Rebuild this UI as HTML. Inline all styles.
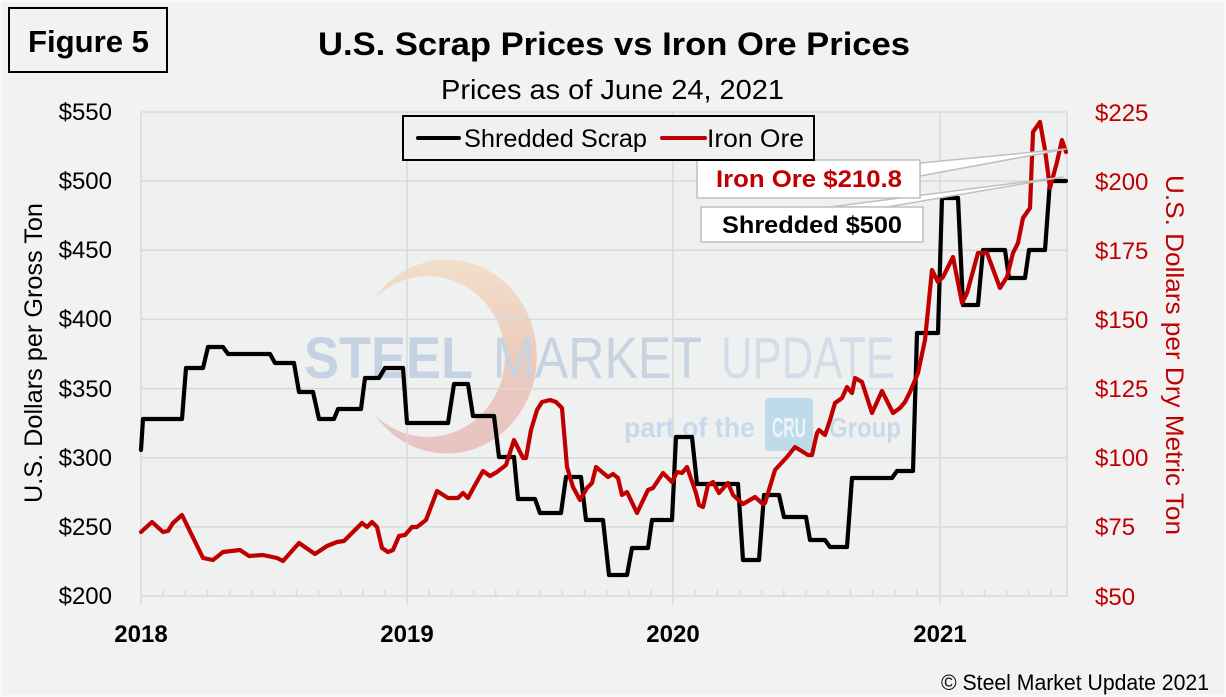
<!DOCTYPE html>
<html>
<head>
<meta charset="utf-8">
<style>
  html,body{margin:0;padding:0;background:#f2f2f2;}
  svg{display:block;}
  text{font-family:"Liberation Sans",Arial,sans-serif;}
</style>
</head>
<body>
<svg width="1226" height="697" viewBox="0 0 1226 697" xmlns="http://www.w3.org/2000/svg">
  <defs>
    <linearGradient id="cres" x1="0" y1="0" x2="0" y2="1">
      <stop offset="0" stop-color="#f1dfcb"/>
      <stop offset="0.5" stop-color="#eccbbd"/>
      <stop offset="1" stop-color="#e8c3c3"/>
    </linearGradient>
  </defs>
  <rect x="0" y="0" width="1226" height="697" fill="#f2f2f2"/>
  <rect x="1" y="1" width="1224" height="695" fill="none" stroke="#f9f9f9" stroke-width="2"/>

  <!-- plot area -->
  <rect x="141" y="112" width="926" height="484" fill="#eff0f0"/>

  <!-- watermark crescent -->
  <path d="M375,298 A90,97 0 1 1 375,415 A77,80.5 0 1 0 375,298 Z" fill="url(#cres)"/>

  <!-- watermark text -->
  <g>
    <text x="304" y="378" font-size="58" font-weight="bold" fill="#c5d2e2" textLength="169" lengthAdjust="spacingAndGlyphs">STEEL</text>
    <text x="493" y="378" font-size="58" fill="#c8d3e2" textLength="209" lengthAdjust="spacingAndGlyphs">MARKET</text>
    <text x="721" y="378" font-size="58" fill="#d3dce8" textLength="174" lengthAdjust="spacingAndGlyphs">UPDATE</text>
    <text x="624" y="437" font-size="28" font-weight="bold" fill="#c7d9ea" textLength="131" lengthAdjust="spacingAndGlyphs">part of the</text>
    <rect x="765" y="398" width="48" height="53" rx="4" fill="#bedbea"/>
    <text x="789" y="437" font-size="28" font-weight="bold" fill="#eef4f8" text-anchor="middle" textLength="34" lengthAdjust="spacingAndGlyphs">CRU</text>
    <text x="829" y="437" font-size="28" font-weight="bold" fill="#c7d9ea" textLength="72" lengthAdjust="spacingAndGlyphs">Group</text>
  </g>

  <!-- gridlines -->
  <g stroke="#d9d9d9" stroke-width="1.5">
    <line x1="141" y1="112" x2="1067" y2="112"/>
    <line x1="141" y1="181.1" x2="1067" y2="181.1"/>
    <line x1="141" y1="250.3" x2="1067" y2="250.3"/>
    <line x1="141" y1="319.4" x2="1067" y2="319.4"/>
    <line x1="141" y1="388.6" x2="1067" y2="388.6"/>
    <line x1="141" y1="457.7" x2="1067" y2="457.7"/>
    <line x1="141" y1="526.9" x2="1067" y2="526.9"/>
    <line x1="141" y1="596" x2="1067" y2="596"/>
    <line x1="141" y1="112" x2="141" y2="605"/>
    <line x1="407" y1="112" x2="407" y2="605"/>
    <line x1="673" y1="112" x2="673" y2="605"/>
    <line x1="940" y1="112" x2="940" y2="605"/>
    <line x1="1067" y1="112" x2="1067" y2="596"/>
    <path d="M163.2 590V596M185.4 590V596M207.6 590V596M229.8 590V596M251.9 590V596M274.1 590V596M296.3 590V596M318.5 590V596M340.7 590V596M362.9 590V596M385.1 590V596
             M429.2 590V596M451.4 590V596M473.6 590V596M495.8 590V596M517.9 590V596M540.1 590V596M562.3 590V596M584.5 590V596M606.7 590V596M628.9 590V596M651.1 590V596
             M695.2 590V596M717.4 590V596M739.6 590V596M761.8 590V596M783.9 590V596M806.1 590V596M828.3 590V596M850.5 590V596M872.7 590V596M894.9 590V596M917.1 590V596
             M962.2 590V596M984.4 590V596M1006.6 590V596M1028.8 590V596M1050.9 590V596" fill="none"/>
  </g>

  <!-- Shredded scrap series -->
  <polyline fill="none" stroke="#000" stroke-width="4.2" stroke-linejoin="round" stroke-linecap="round"
    points="141,450 143,419 182,419 186,368 203,368 208,347 223,347 228,354 270,354 275,363 294,363 299,392 313,392 319,419 334,419 338,409 361,409 365,378 379,378 385,368 403,368 407,423 448,423 454,384 468,384 473,416 494,416 499,457 514,457 518,499 535,499 540,513 561,513 566,477 581,477 586,520 603,520 609,575 627,575 632,548 648,548 652,520 672,520 676,437 692,437 697,484 738,484 743,560 759,560 764,495 779,495 784,517 806,517 810,540 825,540 830,547 847,547 852,478 892,478 897,471 913,471 917,333 938,333 942,198 958,198 963,305 978,305 983,250 1005,250 1009,278 1025,278 1029,250 1045,250 1050,181 1066,181"/>

  <!-- Iron ore series -->
  <polyline fill="none" stroke="#c00000" stroke-width="4.2" stroke-linejoin="round" stroke-linecap="round"
    points="141,532 152,522 163,532 168,531 173,523 182,515 203,558 213,560 223,552 240,550 249,556 263,555 277,558 283,561 299,543 315,554 327,546 337,542 344,541 352,533 362,523 367,527 372,522 377,527 382,548 388,552 393,550 399,536 405,535 412,527 417,527 426,520 437,491 448,498 458,498 463,493 468,498 475,485 483,471 490,476 497,472 506,465 514,440 523,458 526,458 531,430 537,410 542,402 550,400 556,402 562,408 567,467 573,487 580,500 587,488 592,483 596,467 608,477 613,474 618,478 622,495 627,492 637,513 648,490 653,488 663,473 672,482 677,472 682,473 687,467 696,493 699,505 703,507 708,485 713,482 719,493 728,483 733,495 743,504 755,497 763,504 765,503 775,470 787,457 795,447 808,455 812,455 817,433 819,430 825,435 830,420 835,403 842,398 847,387 852,393 855,378 862,382 872,413 882,391 893,413 900,408 905,402 910,392 918,373 925,340 932,270 938,282 943,277 953,257 962,303 967,293 978,253 987,253 1000,288 1007,277 1013,253 1018,243 1023,218 1030,208 1033,132 1040,122 1045,150 1050,188 1057,162 1062,140 1066,152"/>

  <!-- callouts -->
  <polygon points="920,163 1066,149 920,176" fill="#ffffff" stroke="#bfbfbf" stroke-width="1.5" stroke-linejoin="round"/>
  <polygon points="830,207 1063,177 887,207" fill="#ffffff" stroke="#bfbfbf" stroke-width="1.5" stroke-linejoin="round"/>
  <rect x="697" y="160" width="223" height="38" fill="#ffffff" stroke="#bfbfbf" stroke-width="1.5"/>
  <text x="716" y="187" font-size="24" font-weight="bold" fill="#c00000" textLength="186" lengthAdjust="spacingAndGlyphs">Iron Ore $210.8</text>
  <rect x="701" y="207" width="222" height="35" fill="#ffffff" stroke="#bfbfbf" stroke-width="1.5"/>
  <text x="722" y="233" font-size="24" font-weight="bold" fill="#000" textLength="180" lengthAdjust="spacingAndGlyphs">Shredded $500</text>

  <!-- legend -->
  <rect x="403" y="116" width="411" height="44" fill="#f0f0f0" stroke="#000" stroke-width="2"/>
  <line x1="418" y1="138" x2="459" y2="138" stroke="#000" stroke-width="4" stroke-linecap="round"/>
  <text x="464" y="147" font-size="25" fill="#000" textLength="183" lengthAdjust="spacingAndGlyphs">Shredded Scrap</text>
  <line x1="662" y1="138" x2="705" y2="138" stroke="#c00000" stroke-width="4" stroke-linecap="round"/>
  <text x="707" y="147" font-size="25" fill="#000" textLength="97" lengthAdjust="spacingAndGlyphs">Iron Ore</text>

  <!-- left tick labels -->
  <g font-size="24" fill="#000" text-anchor="end">
    <text x="112" y="120">$550</text>
    <text x="112" y="189">$500</text>
    <text x="112" y="258">$450</text>
    <text x="112" y="327">$400</text>
    <text x="112" y="397">$350</text>
    <text x="112" y="466">$300</text>
    <text x="112" y="535">$250</text>
    <text x="112" y="604">$200</text>
  </g>
  <!-- right tick labels -->
  <g font-size="24" fill="#c00000">
    <text x="1095" y="121">$225</text>
    <text x="1095" y="190">$200</text>
    <text x="1095" y="259">$175</text>
    <text x="1095" y="328">$150</text>
    <text x="1095" y="397">$125</text>
    <text x="1095" y="466">$100</text>
    <text x="1095" y="535">$75</text>
    <text x="1095" y="605">$50</text>
  </g>
  <!-- x labels -->
  <g font-size="24" font-weight="bold" fill="#000" text-anchor="middle">
    <text x="141" y="642">2018</text>
    <text x="407" y="642">2019</text>
    <text x="673" y="642">2020</text>
    <text x="940" y="642">2021</text>
  </g>

  <!-- axis titles -->
  <text transform="translate(42,353) rotate(-90)" font-size="25" fill="#000" text-anchor="middle" textLength="300" lengthAdjust="spacingAndGlyphs">U.S. Dollars per Gross Ton</text>
  <text transform="translate(1166,355) rotate(90)" font-size="25" fill="#c00000" text-anchor="middle" textLength="360" lengthAdjust="spacingAndGlyphs">U.S. Dollars per Dry Metric Ton</text>

  <!-- titles -->
  <rect x="9" y="8" width="158" height="64" fill="none" stroke="#000" stroke-width="2"/>
  <text x="28" y="52" font-size="31" font-weight="bold" fill="#000" textLength="121" lengthAdjust="spacingAndGlyphs">Figure 5</text>
  <text x="318" y="55" font-size="32" font-weight="bold" fill="#000" textLength="592" lengthAdjust="spacingAndGlyphs">U.S. Scrap Prices vs Iron Ore Prices</text>
  <text x="441" y="99" font-size="28" fill="#000" textLength="343" lengthAdjust="spacingAndGlyphs">Prices as of June 24, 2021</text>

  <!-- copyright -->
  <text x="941" y="690" font-size="22" fill="#000" textLength="268" lengthAdjust="spacingAndGlyphs">© Steel Market Update 2021</text>
</svg>
</body>
</html>
